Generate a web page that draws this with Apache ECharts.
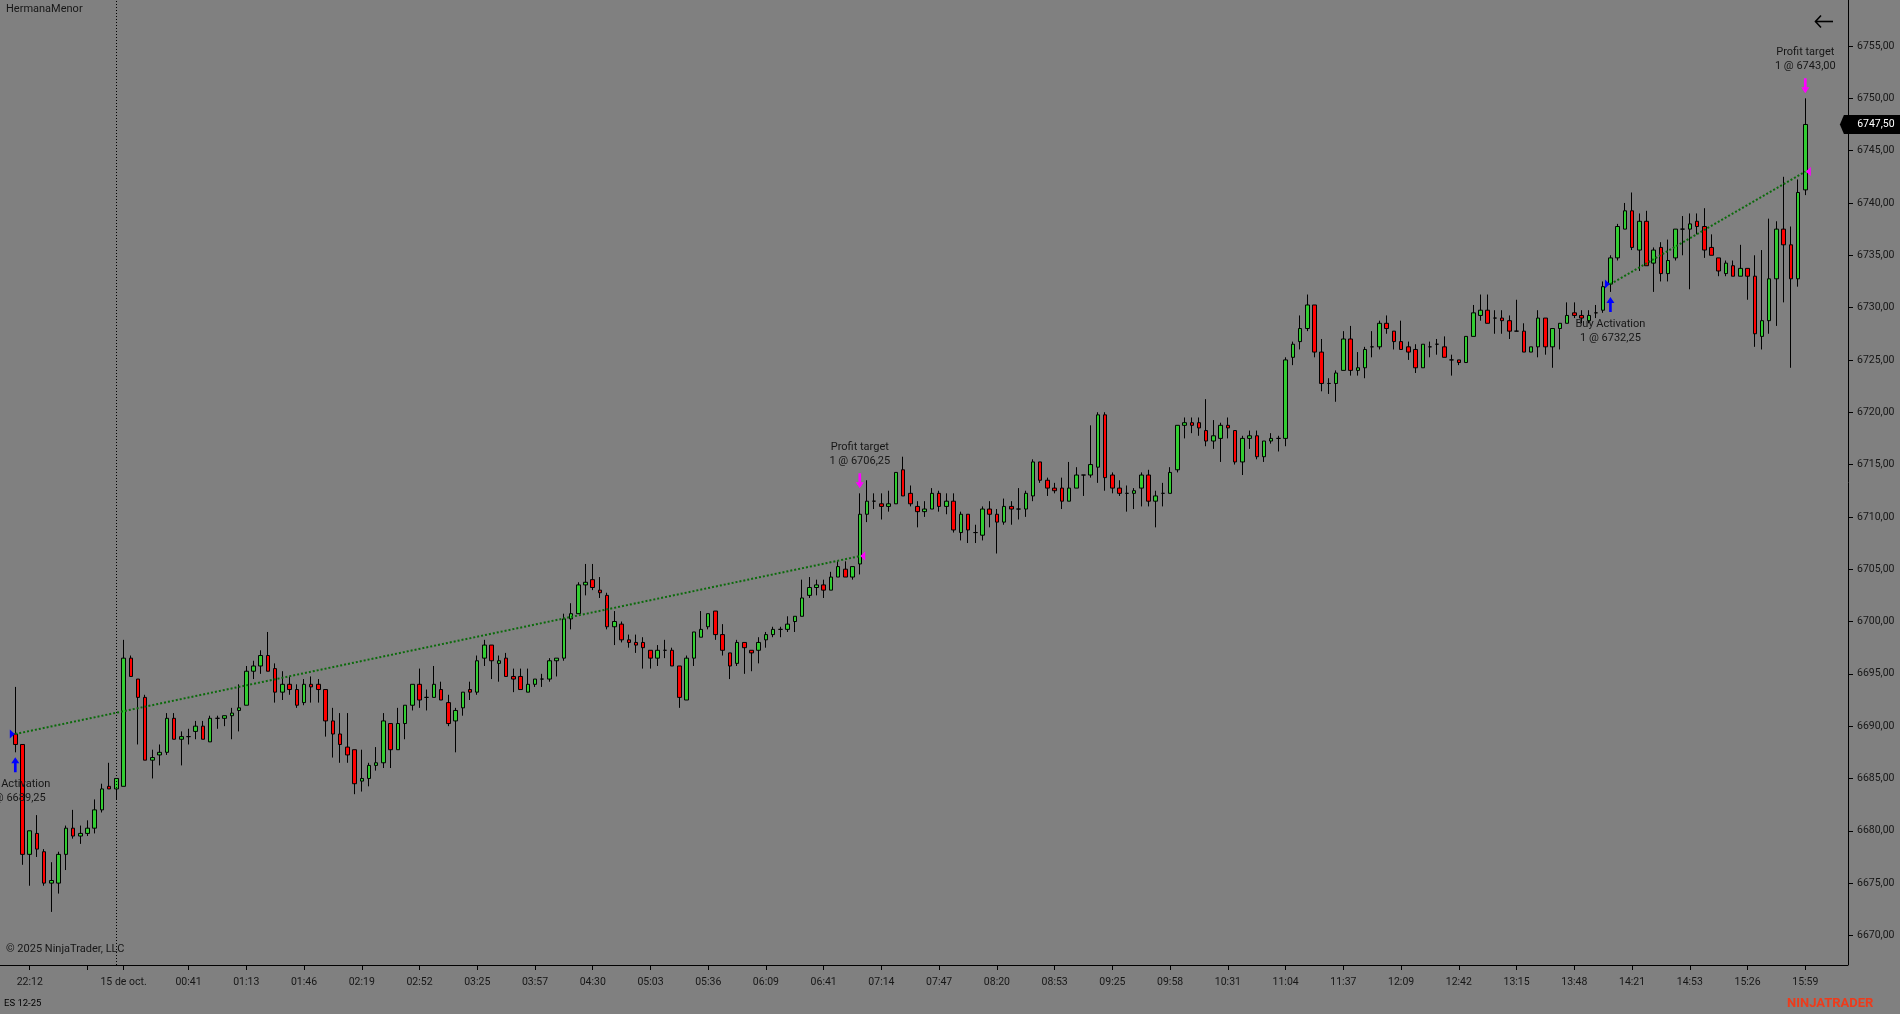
<!DOCTYPE html>
<html><head><meta charset="utf-8">
<style>html,body{margin:0;padding:0;background:#808080;overflow:hidden}#c{width:1900px;height:1014px}</style>
<script src="https://cdn.jsdelivr.net/npm/echarts@6/dist/echarts.min.js"></script>
</head><body><div id="c"></div>
<script>
const opens = [
6689.25,6688.25,6677.75,6679.75,6678,6675,6675,6677.75,6680.25,6679.5,
6679.75,6680.25,6682,6684.25,6684,6684.25,6696.5,6694.5,6692.75,6686.75,
6687.25,6687.5,6690.75,6688.75,6689,6689.5,6690,6688.5,6690.75,6690.75,
6691,6691.5,6692,6695.25,6695.75,6696.75,6695.5,6693.25,6694,6693.5,
6692.25,6694,6694,6693.5,6690.5,6689.25,6688,6687.75,6684.75,6685,
6686.25,6686.5,6690.25,6687.75,6690.25,6692,6694,6692.75,6692.75,6693.5,
6692.25,6690.5,6691.75,6693.5,6693.25,6696.5,6697.75,6696,6696.5,6694.75,
6694.75,6693.25,6694,6694.5,6694.5,6696.25,6696.5,6700.25,6700.75,6703.5,
6704,6703,6702.5,6699.5,6699.75,6698.25,6698,6698,6697.25,6696.5,
6697.25,6697.25,6695.75,6692.5,6696.5,6698.5,6699.5,6701,6698.75,6697,
6696,6698,6697.25,6697.25,6698.25,6698.75,6699.25,6699.25,6700,6700.5,
6702.5,6703.25,6703.5,6703,6704.25,6705,6704.25,6705.5,6710.25,6711.5,
6711.25,6711,6711.25,6714.5,6712.25,6711,6710.5,6710.75,6712.25,6711,
6711.5,6708.5,6710.25,6708.5,6708.25,6710.75,6710.25,6709.5,6711,6710.75,
6710.75,6712,6715.25,6713.5,6712.75,6712.75,6711.5,6712.75,6714,6714,
6714.75,6719.75,6714,6712.75,6712.25,6712.25,6712.75,6714,6711.5,6712.25,
6712.25,6714.5,6718.75,6719,6719,6718.25,6717.25,6717.5,6718.75,6718.25,
6715.25,6717.5,6717.75,6715.75,6717.25,6717.5,6717.5,6725.25,6726.75,6728,
6730.25,6725.75,6722.75,6722.75,6724,6727,6724,6724.25,6726.25,6726.25,
6728.5,6727.75,6726.75,6726.25,6726,6724.25,6726.25,6726.5,6726.25,6725,
6725,6724.75,6727.25,6729.25,6729.75,6729,6729,6728.75,6727.75,6727.75,
6725.75,6726.25,6729,6726.25,6728,6728.5,6729.5,6729.25,6728.75,6729.5,
6729.75,6732.25,6734.75,6737.5,6739.25,6735.5,6738.25,6734.25,6735.75,6733.25,
6734.75,6737.5,6737.5,6738.25,6737.75,6735.75,6734.75,6733.25,6734,6733,
6733.75,6733,6727.25,6728.75,6732.75,6737.5,6736,6732.75,6741.25];
const highs = [
6693.75,6688.25,6680,6681.5,6678.25,6677,6678,6680.5,6682,6680.5,
6681,6683,6684.5,6686.5,6685,6698.25,6696.75,6694.5,6693,6687.75,
6688.25,6691.25,6691.25,6689.5,6689.75,6690.5,6690.5,6691,6691,6691,
6691.75,6694,6695.75,6696.25,6697.25,6699,6696,6695.25,6694.75,6694,
6694.5,6694.75,6694.5,6693.5,6691.75,6691.25,6691.25,6687.75,6687.75,6686.5,
6688,6691.25,6690.25,6691.75,6692,6694,6695.5,6693.5,6695.75,6694.25,
6693,6691.75,6693.25,6694.25,6696.75,6698.25,6697.75,6696.75,6697,6695.5,
6695.5,6695.5,6694.5,6695,6696.5,6696.5,6700.75,6701.75,6703.75,6705.5,
6705.5,6704.25,6702.75,6701,6700,6698.75,6698.75,6698.5,6697.25,6697.75,
6698.25,6697.5,6695.75,6696.75,6699,6701,6700.75,6701,6699.75,6697,
6698.25,6698,6697.25,6698.5,6699,6699.5,6699.5,6700.5,6700.5,6704,
6704.25,6704,6704,6704.75,6705.75,6705.75,6705.25,6712.25,6713.5,6712.25,
6712.25,6712.5,6714.25,6715.75,6713,6711.5,6711.5,6712.75,6712.5,6712.25,
6712.25,6710.5,6710.25,6709.25,6711,6711.5,6710.75,6711.75,6711.5,6712.75,
6712.5,6715.5,6715.25,6713.75,6713.25,6713.75,6715.25,6714.75,6714,6718.75,
6720,6720,6714.25,6713.5,6713,6712.75,6714.25,6714.5,6712.5,6713.25,
6714.75,6718.75,6719.5,6719.5,6719.5,6721.25,6719.25,6719,6719.5,6718.25,
6717.75,6718.25,6718.25,6717.25,6718,6717.75,6725.25,6726.75,6729.25,6731.25,
6730.25,6727,6723.25,6724,6727.75,6728.25,6725.75,6726.25,6727.75,6728.75,
6729.25,6727.75,6728.75,6726.75,6726.5,6726.5,6726.75,6727,6727.25,6725.5,
6725,6727.25,6730.25,6731.25,6731.25,6729.75,6729.75,6729.25,6730.75,6728.5,
6726.25,6729.75,6729,6728,6728.5,6730.5,6730.5,6729.75,6729.75,6730.25,
6732.5,6735,6738,6740,6741,6739,6739.25,6735.75,6736.25,6736.5,
6737.5,6738.75,6739,6739,6739.5,6737,6734.75,6734.5,6734.5,6736,
6733.75,6735,6735.5,6738.5,6738.25,6742.5,6737.75,6742.25,6750];
const lows = [
6687.5,6676.75,6674.75,6677.5,6674.75,6672.25,6674,6676.25,6679.25,6678.75,
6679.5,6679.75,6681.75,6684,6683,6684.25,6694.75,6688.25,6686.75,6685,
6686.25,6687.25,6688.75,6686.25,6688.25,6688.75,6688.75,6688.5,6689.75,6690,
6688.75,6689.5,6692,6694.5,6695,6695.25,6692.25,6692.5,6693,6691.75,
6692,6692.25,6692.25,6689,6687,6686.5,6686.5,6683.5,6683.75,6684.25,
6685.75,6686,6686,6687.75,6688.75,6691.5,6691.75,6691.5,6692.75,6692.5,
6690,6687.5,6691,6692.5,6693,6695.75,6694.5,6694.25,6694.75,6693.25,
6693.5,6693.25,6693.75,6693.75,6694.25,6694.75,6696.25,6699.25,6700.75,6702.5,
6703,6702.25,6699.25,6697.75,6698,6697.5,6697,6695.5,6695.5,6695.75,
6696.5,6695.75,6691.75,6692.5,6695.75,6698.5,6699.25,6698.25,6696.75,6694.5,
6695.75,6695,6695.25,6696,6697.5,6698.5,6698.5,6699,6699,6700.5,
6702.25,6702.5,6702.25,6703,6704.25,6704.25,6704,6704.5,6709.5,6710.75,
6709.75,6710.5,6711.25,6712,6711,6709,6710,6710.75,6710.5,6710.25,
6708.5,6707.75,6707.5,6707.5,6707.75,6709,6706.5,6709.25,6709.25,6709.75,
6710,6711.5,6713.25,6712,6712.25,6710.75,6711.5,6712.75,6712,6713.75,
6713.25,6712.5,6712.25,6712,6710.5,6710.75,6711,6711,6709,6711,
6712.25,6714.25,6717.5,6718,6717.75,6716.75,6716.5,6715.25,6717.5,6715,
6714,6716.5,6715.5,6715.25,6717,6716.25,6716.75,6724.5,6726,6727.75,
6725.25,6722,6721.75,6721,6724,6723.5,6723.5,6723.25,6725.25,6726,
6727.5,6726,6726,6725,6723.75,6724.25,6725.25,6725.5,6725.25,6723.5,
6724.5,6724.75,6727.25,6728.75,6728.5,6727.5,6727.5,6727,6727.75,6725.75,
6725.75,6725.25,6725.5,6724.25,6726,6728.5,6729,6728.5,6728.5,6729,
6729.5,6731.5,6734.5,6737.5,6735.5,6733.5,6734,6731.5,6732.5,6732.5,
6734.5,6735,6731.75,6737,6734.75,6735,6733,6733,6733,6733,
6730.75,6726.25,6726,6727.5,6728.25,6730.5,6724.25,6732,6740.75];
const closes = [
6688.25,6677.75,6680,6678.25,6675,6675.25,6677.75,6680.25,6679.5,6679.75,
6680.25,6682,6684,6684,6685,6696.5,6694.75,6692.75,6686.75,6687,
6687.5,6690.75,6688.75,6689,6689,6690,6688.75,6690.75,6690.75,6691,
6691.25,6691.75,6695.25,6695.75,6696.75,6695.25,6693.25,6694,6693.5,6692,
6694,6693.75,6693.5,6690.5,6689.25,6688.25,6687.25,6684.5,6685,6686.25,
6686.5,6690.5,6687.75,6690.25,6692,6694,6692.5,6692.75,6694,6692.5,
6690.25,6691.5,6693.25,6693.25,6696.25,6697.75,6696.25,6696.25,6694.75,6694.5,
6693.5,6694,6694.5,6694.5,6696.25,6696.5,6700.25,6700.75,6703.5,6703.75,
6703.25,6702.75,6699.5,6700,6698.25,6698,6697.75,6697.5,6696.5,6697.25,
6697.25,6695.75,6692.75,6696.5,6699,6699.25,6700.75,6698.75,6697.25,6695.75,
6698,6697.5,6697,6698,6698.75,6699.25,6699.25,6699.75,6700.5,6702.25,
6703.25,6703.5,6703,6704.25,6705.25,6704.25,6705.25,6710.25,6711.5,6711.5,
6711,6711.25,6714.25,6712,6711.25,6710.5,6710.75,6712.25,6711,6711.5,
6708.75,6710.25,6708.75,6708.5,6710.75,6710.25,6709.5,6711,6710.75,6710.75,
6712.25,6715.25,6713.5,6712.75,6712.5,6711.5,6712.75,6714,6714,6715,
6719.75,6713.75,6712.75,6712.25,6712.25,6712.5,6714,6711.5,6712,6712.25,
6714.25,6718.75,6719,6718.75,6718.5,6717.25,6717.75,6718.75,6718.5,6715.25,
6717.5,6717.75,6715.75,6717.25,6717.5,6717.5,6725,6726.5,6728,6730.25,
6725.75,6722.75,6722.75,6723.75,6727,6724,6724.25,6726,6726.25,6728.5,
6728,6726.75,6726,6725.75,6724.25,6726.5,6726.25,6726.5,6725.25,6725,
6724.75,6727.25,6729.5,6729.75,6728.5,6729,6728.75,6727.75,6727.75,6725.75,
6726.25,6729,6726.25,6728,6728.5,6729.25,6729.25,6729,6729.25,6729.5,
6732,6734.75,6737.75,6739.25,6735.75,6738.25,6734,6735.5,6733.25,6734.5,
6737.5,6737.5,6738,6737.75,6735.5,6735,6733.5,6734.25,6733,6733.75,
6733,6727.5,6728.75,6732.75,6737.5,6736,6732.75,6741,6747.5];

const tickBars = [2,10,15,24,32,40,48,56,64,72,80,88,96,104,112,120,128,136,144,152,160,168,176,184,192,200,208,216,224,232,240,248];
const tickTexts = ['22:12','','15 de oct.','00:41','01:13','01:46','02:19','02:52','03:25','03:57','04:30','05:03','05:36','06:09','06:41','07:14','07:47','08:20','08:53','09:25','09:58','10:31','11:04','11:37','12:09','12:42','13:15','13:48','14:21','14:53','15:26','15:59'];
const priceTicks = [6670,6675,6680,6685,6690,6695,6700,6705,6710,6715,6720,6725,6730,6735,6740,6745,6750,6755];
const entryBars = [0, 221];
const entryPrices = [6689.25, 6732.25];
const exitBars = [117, 248];
const exitPrices = [6706.25, 6743.00];
const lastPrice = 6747.50;
const sessionBreakBar = 14;

const SLOTS = 254;
const cats = []; for (let i = 0; i < SLOTS; i++) cats.push(String(i));
const candles = opens.map((o, i) => [o, closes[i], lows[i], highs[i]]);
const tickSet = new Set(tickBars);
const labelMap = {};
tickBars.forEach((b, i) => { if (tickTexts[i]) labelMap[b] = tickTexts[i]; });
const fmt = v => v.toFixed(2).replace('.', ',');
const FONT = 'Roboto, "Open Sans", sans-serif';
const TXT = '#161616';

const arrowUp = 'path://M3,15 L3,6 L0,6 L4.5,0 L9,6 L6,6 L6,15 Z';
const arrowDown = 'path://M3,0 L6,0 L6,9 L9,9 L4.5,15 L0,9 L3,9 Z';
const triRight = 'path://M0,0 L5,4.5 L0,9 Z';
const triLeft = 'path://M5,0 L0,4.5 L5,9 Z';

const textLabel = (txt, dy) => ({show: true, position: 'inside', offset: [0, dy], formatter: txt,
  color: TXT, fontSize: 11, lineHeight: 14, fontFamily: FONT, align: 'center'});

const markPts = [];
entryBars.forEach((b, k) => {
  markPts.push({coord: [b, entryPrices[k]], symbol: triRight, symbolSize: [5, 9], symbolOffset: [-3, 0], itemStyle: {color: '#0000ff'}});
  markPts.push({coord: [b, lows[b]], symbol: arrowUp, symbolSize: [8, 15], symbolOffset: [0, 12.5], itemStyle: {color: '#0000ff'}});
  markPts.push({coord: [b, lows[b]], symbol: 'rect', symbolSize: 1, itemStyle: {color: 'rgba(0,0,0,0)'},
    label: textLabel('Buy Activation\n1 @ ' + fmt(entryPrices[k]), 39)});
});
exitBars.forEach((b, k) => {
  markPts.push({coord: [b, exitPrices[k]], symbol: triLeft, symbolSize: [5, 9], symbolOffset: [3, 0], itemStyle: {color: '#ff00ff'}});
  markPts.push({coord: [b, highs[b]], symbol: arrowDown, symbolSize: [8, 15], symbolOffset: [0, -12.5], itemStyle: {color: '#ff00ff'}});
  markPts.push({coord: [b, highs[b]], symbol: 'rect', symbolSize: 1, itemStyle: {color: 'rgba(0,0,0,0)'},
    label: textLabel('Profit target\n1 @ ' + fmt(exitPrices[k]), -39)});
});
// last price tag on the right axis
markPts.push({coord: [SLOTS - 1, lastPrice], symbol: 'path://M0,9.5 L4,0 L62,0 L62,19 L4,19 Z', symbolSize: [62, 19],
  symbolOffset: [29.5, 0], itemStyle: {color: '#000'},
  label: {show: true, position: 'inside', offset: [5, 0], formatter: fmt(lastPrice), color: '#fff',
    fontSize: 10.5, fontFamily: FONT}});

const markLines = [
  {xAxis: sessionBreakBar, lineStyle: {color: '#000', width: 1, type: [1, 2]}, label: {show: false}}
];
entryBars.forEach((b, k) => {
  markLines.push([{coord: [b, entryPrices[k]]}, {coord: [exitBars[k], exitPrices[k]]}]);
});

const yMin = 6755 - (965 - 46) / 10.464;
const yMax = 6755 + 46 / 10.464;

const chart = echarts.init(document.getElementById('c'), null, {renderer: 'canvas', width: 1900, height: 1014});
chart.setOption({
  backgroundColor: '#808080',
  animation: false,
  grid: {left: 11.69, right: 55.0, top: 0, bottom: 49, containLabel: false},
  xAxis: {
    type: 'category', data: cats, boundaryGap: true,
    axisLine: {show: false},
    axisTick: {show: true, alignWithLabel: true, length: 5, interval: (i) => tickSet.has(i), lineStyle: {color: '#000', width: 1}},
    axisLabel: {interval: (i) => labelMap[i] !== undefined, formatter: (v, i) => labelMap[i] || '',
      color: TXT, fontSize: 10.5, fontFamily: FONT, margin: 12},
    splitLine: {show: false}
  },
  yAxis: {
    type: 'value', position: 'right', offset: 3, min: yMin, max: yMax,
    axisLine: {show: true, lineStyle: {color: '#000', width: 1}},
    axisTick: {show: true, length: 5, customValues: priceTicks, lineStyle: {color: '#000'}},
    axisLabel: {customValues: priceTicks, formatter: v => fmt(v), color: TXT, fontSize: 10.5, fontFamily: FONT, margin: 9},
    splitLine: {show: false}
  },
  series: [{
    type: 'candlestick',
    data: candles,
    barWidth: 4,
    itemStyle: {color: '#32cd32', color0: '#ff0000', borderColor: '#000', borderColor0: '#000', borderColorDoji: '#000', borderWidth: 1},
    emphasis: {disabled: true},
    markPoint: {silent: true, label: {show: false}, data: markPts, animation: false, z: 20},
    markLine: {silent: true, symbol: ['none', 'none'], label: {show: false}, animation: false,
      lineStyle: {color: '#0b6a0b', width: 2, type: [2, 2]}, data: markLines}
  }],
  graphic: [
    {type: 'line', shape: {x1: 0, y1: 965.5, x2: 1848, y2: 965.5}, style: {stroke: '#000', lineWidth: 1}, z: 10},
    {type: 'text', left: 6, top: 4, style: {text: 'HermanaMenor', fill: TXT, font: '11px ' + FONT}},
    {type: 'text', left: 6, top: 944, style: {text: '© 2025 NinjaTrader, LLC', fill: TXT, font: '11px ' + FONT}},
    {type: 'text', left: 4, top: 999, style: {text: 'ES 12-25', fill: '#000', font: '9.5px ' + FONT}},
    {type: 'text', left: 1787, top: 997, style: {text: 'NINJATRADER', fill: '#ee3b1b', font: 'bold 13px ' + FONT}},
    {type: 'polyline', shape: {points: [[1821, 15.5], [1815.5, 21.5], [1821, 27.5]]}, style: {stroke: '#000', lineWidth: 1.6, fill: null}},
    {type: 'line', shape: {x1: 1815.5, y1: 21.5, x2: 1833, y2: 21.5}, style: {stroke: '#000', lineWidth: 1.6}}
  ]
});
</script></body></html>
